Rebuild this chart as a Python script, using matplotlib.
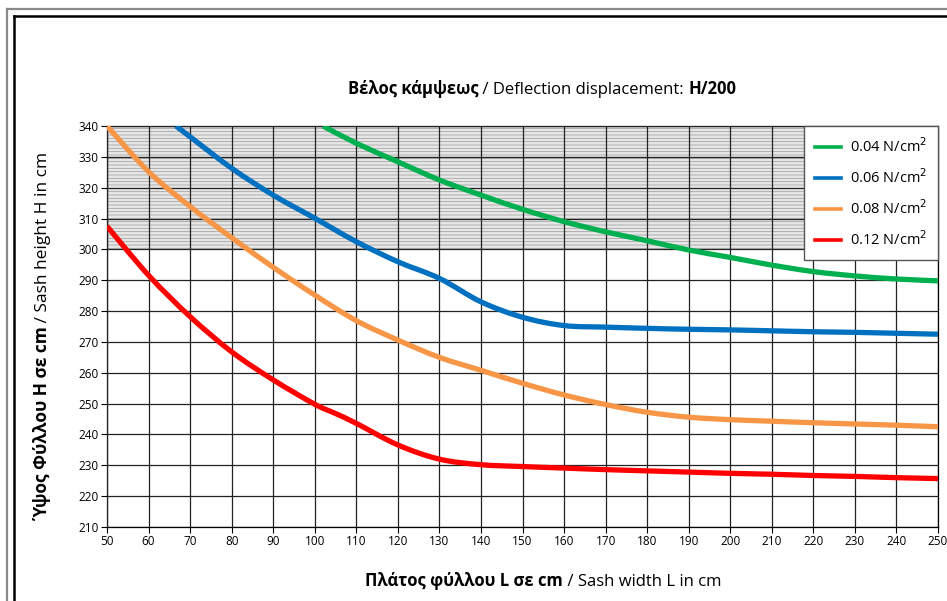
import matplotlib

matplotlib.use("Agg")
import matplotlib.pyplot as plt
from matplotlib.lines import Line2D
from matplotlib.patches import PathPatch
from matplotlib.path import Path
from matplotlib.transforms import IdentityTransform

# sash width L (cm) and sash height H (cm)
L_green = [102, 110, 120, 130, 140, 150, 160, 170, 180, 190, 200, 210, 220, 230, 240, 250]
H_green = [340, 334.4, 328.4, 322.5, 317.6, 313.0, 309.0, 305.7, 302.8, 299.8,
           297.4, 294.9, 292.8, 291.4, 290.4, 289.8]

L_blue = [66.6, 70, 80, 90, 100, 110, 120, 130, 140, 150, 160, 170, 180, 190, 200,
          210, 220, 230, 240, 250]
H_blue = [340, 336.5, 326.3, 317.6, 310.1, 302.5, 296.0, 290.6, 283.0, 278.0, 275.3,
          274.8, 274.4, 274.1, 273.9, 273.6, 273.3, 273.1, 272.8, 272.5]

L_orange = [50, 60, 70, 80, 90, 100, 110, 120, 130, 140, 150, 160, 170, 180, 190, 200,
            210, 220, 230, 240, 250]
H_orange = [340, 325.2, 313.9, 303.8, 294.2, 285.2, 276.9, 270.6, 265.0, 260.8, 256.6,
            252.8, 249.7, 247.2, 245.6, 244.8, 244.3, 243.8, 243.4, 243.0, 242.5]

L_red = [50, 60, 70, 80, 90, 100, 105, 110, 120, 130, 140, 150, 160, 170, 180, 190, 200,
         210, 220, 230, 240, 250]
H_red = [307.5, 291.6, 278.2, 266.8, 257.7, 249.8, 246.8, 243.6, 236.6, 232.0, 230.2,
         229.6, 229.1, 228.6, 228.2, 227.8, 227.4, 227.1, 226.7, 226.4, 226.0, 225.7]

series = [
    ("0.04 N/cm$^2$", L_green, H_green, "#00b050"),
    ("0.06 N/cm$^2$", L_blue, H_blue, "#0070c0"),
    ("0.08 N/cm$^2$", L_orange, H_orange, "#f79646"),
    ("0.12 N/cm$^2$", L_red, H_red, "#ff0000"),
]

x_ticks = list(range(50, 251, 10))
y_ticks = list(range(210, 341, 10))
limit_band = (300, 340)

plt.rcParams["font.family"] = ["Open Sans", "DejaVu Sans"]
plt.rcParams["hatch.linewidth"] = 0.5

W, H = 947, 601
fig = plt.figure(figsize=(W / 100, H / 100), dpi=100)
ax = fig.add_axes([107 / W, 1 - 527 / H, (938 - 107) / W, (527 - 126) / H])


def smooth_path(xs, ys, k=1 / 6):
    """Excel-style smoothed line: cubic Bezier through the points (Catmull-Rom)."""
    verts = [(xs[0], ys[0])]
    codes = [Path.MOVETO]
    n = len(xs)
    for i in range(n - 1):
        x0, y0 = (xs[i - 1], ys[i - 1]) if i > 0 else (xs[i], ys[i])
        x1, y1 = xs[i], ys[i]
        x2, y2 = xs[i + 1], ys[i + 1]
        x3, y3 = (xs[i + 2], ys[i + 2]) if i + 2 < n else (x2, y2)
        verts += [(x1 + (x2 - x0) * k, y1 + (y2 - y0) * k),
                  (x2 - (x3 - x1) * k, y2 - (y3 - y1) * k),
                  (x2, y2)]
        codes += [Path.CURVE4] * 3
    return Path(verts, codes)


# shaded band above H = 300
ax.fill_between([50, 250], limit_band[0], limit_band[1], facecolor="#e6e6e6",
                edgecolor="#9a9a9a", hatch="-----", linewidth=0, zorder=0)

for label, xs, ys, color in series:
    ax.add_patch(PathPatch(smooth_path(xs, ys), fill=False, edgecolor=color, lw=3.8,
                           capstyle="butt", zorder=3))
    ax.plot([], [], color=color, lw=2.6, label=label)

ax.set_xlim(50, 250)
ax.set_ylim(210, 340)
ax.set_xticks(x_ticks)
ax.set_yticks(y_ticks)
ax.tick_params(labelsize=8.5, length=4, width=0.8, color="black", pad=2)
ax.grid(True, color="#222222", lw=0.9, zorder=1)
ax.set_axisbelow(False)
for s in ax.spines.values():
    s.set_color("black")
    s.set_linewidth(0.9)

leg = ax.legend(loc="upper right", bbox_to_anchor=(1.0, 1.0), fontsize=10.5,
                handlelength=1.8, handletextpad=0.6, labelspacing=0.85,
                borderpad=0.75, fancybox=False, framealpha=1, edgecolor="#555555",
                borderaxespad=0)
leg.get_frame().set_linewidth(1.0)
leg.set_zorder(5)


def mixed_text(x, y, parts, rotation=0, size=12):
    """Bold/normal text pieces placed one after another, centred on (x, y) px."""
    texts = [fig.text(0, 0, s, fontweight=w, fontsize=size, rotation=rotation,
                      transform=IdentityTransform()) for s, w in parts]
    r = fig.canvas.get_renderer()
    sizes = []
    for t in texts:
        bb = t.get_window_extent(r)
        sizes.append(bb.width if rotation == 0 else bb.height)
    pos = (x if rotation == 0 else H - y) - sum(sizes) / 2
    for t, s in zip(texts, sizes):
        if rotation == 0:
            t.set_position((pos, H - y))
            t.set_va("baseline")
        else:
            t.set_position((x, pos))
            t.set_va("bottom")
            t.set_ha("center")
        pos += s


mixed_text(542, 94, [("Βέλος κάμψεως", "bold"),
                     (" / Deflection displacement: ", "normal"), ("H/200", "bold")])
mixed_text(543, 586, [("Πλάτος φύλλου L σε cm", "bold"),
                      (" / Sash width L in cm", "normal")])
mixed_text(43, 336, [("Ύψος Φύλλου H σε cm", "bold"),
                     (" / Sash height H in cm", "normal")], rotation=90, size=12.5)

# double frame around the chart
for (px, py), col, lw in [((7, 9), "#8a8a8a", 1.6), ((14, 16), "black", 1.8)]:
    xl = px / W
    yt = 1 - py / H
    fig.add_artist(Line2D([xl, xl], [-0.1, yt], color=col, lw=lw))
    fig.add_artist(Line2D([xl, 1.1], [yt, yt], color=col, lw=lw))

fig.savefig("out.png", dpi=100)
